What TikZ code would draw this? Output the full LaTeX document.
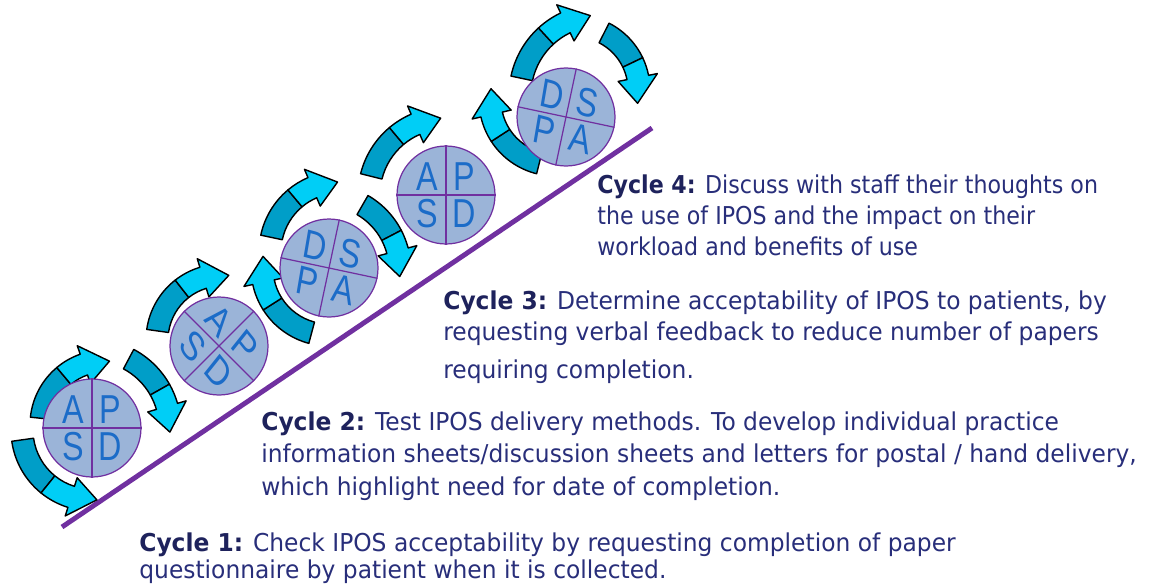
\documentclass[tikz,border=0pt]{standalone}
\usepackage{fontspec}
\setmainfont{DejaVu Sans}[FakeStretch=0.95]
\newfontfamily\pdsafont{Liberation Sans}
\usetikzlibrary{calc}
\definecolor{linie}{RGB}{112,48,160}
\definecolor{kreisfill}{RGB}{155,180,216}
\definecolor{buchstabe}{RGB}{28,108,200}
\definecolor{pfeildunkel}{RGB}{0,158,200}
\definecolor{pfeilhell}{RGB}{0,206,246}
\definecolor{schrift}{RGB}{40,46,122}
\definecolor{fettschrift}{RGB}{30,34,92}
\tikzset{
  kreis/.style={circle,draw=linie,line width=0.7pt,fill=kreisfill,minimum size=1.96cm,inner sep=0pt},
  kreuz/.style={linie,line width=0.7pt},
  buchst/.style={text=buchstabe,font=\pdsafont\fontsize{23}{23}\selectfont,inner sep=0pt,xscale=0.8,transform shape},
  pfeilrand/.style={draw=black,line width=0.8pt,line join=round},
  zyklus/.style={anchor=north west,align=left,inner sep=0pt,text=schrift,font=\fontsize{14}{17.9}\selectfont}
}
\newcommand{\zyk}[1]{\textbf{\color{fettschrift}#1}}
% circle with cross and four letters
\newcommand{\pdsakreis}[8]{%
  \pgfmathtruncatemacro{\kob}{90-#4}\pgfmathtruncatemacro{\kun}{270-#4}%
  \pgfmathtruncatemacro{\kre}{360-#4}\pgfmathtruncatemacro{\kli}{180-#4}%
  \pgfmathtruncatemacro{\kol}{135-#4}\pgfmathtruncatemacro{\kor}{45-#4}%
  \pgfmathtruncatemacro{\kul}{225-#4}\pgfmathtruncatemacro{\kur}{315-#4}%
  \node[kreis] (#1) at (#2,#3) {};
  \draw[kreuz] (#1.\kob) -- (#1.\kun);
  \draw[kreuz] (#1.\kli) -- (#1.\kre);
  \node[buchst,rotate=-#4] (#1ol) at ($(#1.center)!0.52!(#1.\kol)$) {#5};
  \node[buchst,rotate=-#4] (#1or) at ($(#1.center)!0.52!(#1.\kor)$) {#6};
  \node[buchst,rotate=-#4] (#1ul) at ($(#1.center)!0.52!(#1.\kul)$) {#7};
  \node[buchst,rotate=-#4] (#1ur) at ($(#1.center)!0.52!(#1.\kur)$) {#8};
}
% curved arrow: centre x, centre y, radius, start angle, end angle
\newcommand{\zyklpfeil}[5]{%
  \pgfmathsetmacro{\pfs}{sign(#5-#4)}%
  \pgfmathsetmacro{\pfm}{(#4+#5)/2}%
  \pgfmathsetmacro{\pfe}{#5-\pfs*26/#3*180/pi}%
  \pgfmathsetmacro{\pfa}{#3+11}\pgfmathsetmacro{\pfi}{#3-11}%
  \pgfmathsetmacro{\pfha}{#3+20}\pgfmathsetmacro{\pfhi}{#3-20}%
  \begin{scope}[shift={(#1,#2)}]
    \filldraw[pfeilrand,fill=pfeildunkel] (#4:\pfa) arc[start angle=#4,end angle=\pfm,radius=\pfa]
      -- (\pfm:\pfi) arc[start angle=\pfm,end angle=#4,radius=\pfi] -- cycle;
    \filldraw[pfeilrand,fill=pfeilhell] (\pfm:\pfa) arc[start angle=\pfm,end angle=\pfe,radius=\pfa]
      -- (\pfe:\pfha) -- (#5:#3) -- (\pfe:\pfhi) -- (\pfe:\pfi)
      arc[start angle=\pfe,end angle=\pfm,radius=\pfi] -- cycle;
  \end{scope}}
\begin{document}
\begin{tikzpicture}[x=0.02cm,y=-0.02cm]
	\useasboundingbox (0,0) rectangle (1155,585);
	\coordinate (ls) at (62,527);
	\coordinate (le) at (652,128);
	\draw[linie,line width=2.8pt] (ls) -- (le);

	\zyklpfeil{92}{430}{70}{172}{86}
	\zyklpfeil{105}{425}{64}{186}{274}
	\zyklpfeil{92}{428}{78}{-62}{3}
	\zyklpfeil{222}{340}{65}{188}{276}
	\zyklpfeil{329}{268}{67}{105}{190}
	\zyklpfeil{340}{252}{70}{192}{268}
	\zyklpfeil{325}{270}{75}{-60}{5}
	\zyklpfeil{446}{195}{77}{194}{266}
	\zyklpfeil{555}{100}{65}{104}{190}
	\zyklpfeil{600}{95}{80}{192}{263}
	\zyklpfeil{575}{90}{64}{-63}{12}

	\pdsakreis{k1}{92}{428}{0}{A}{P}{S}{D}
	\pdsakreis{k2}{219}{346}{45}{A}{P}{S}{D}
	\pdsakreis{k3}{329}{268}{12}{D}{S}{P}{A}
	\pdsakreis{k4}{446}{195}{0}{A}{P}{S}{D}
	\pdsakreis{k5}{566}{117}{12}{D}{S}{P}{A}

	\node[zyklus,font=\fontsize{14}{17.9}\selectfont\addfontfeatures{FakeStretch=0.9}] (zyk4) at (597,174) {\zyk{Cycle 4:} Discuss with staff their thoughts on\\the use of IPOS and the impact on their\\workload and benefits of use};
	\node[zyklus] (zyk3) at (443,290) {\zyk{Cycle 3:} Determine acceptability of IPOS to patients, by\\requesting verbal feedback to reduce number of papers\\[3.7pt]requiring completion.};
	\node[zyklus] (zyk2) at (261,411) {\zyk{Cycle 2:} Test IPOS delivery methods. To develop individual practice\\[0.6pt]information sheets/discussion sheets and letters for postal / hand delivery,\\[0.6pt]which highlight need for date of completion.};
	\node[zyklus] (zyk1) at (139,532) {\zyk{Cycle 1:} Check IPOS acceptability by requesting completion of paper\\[-2.5pt]questionnaire by patient when it is collected.};
\end{tikzpicture}
\end{document}
